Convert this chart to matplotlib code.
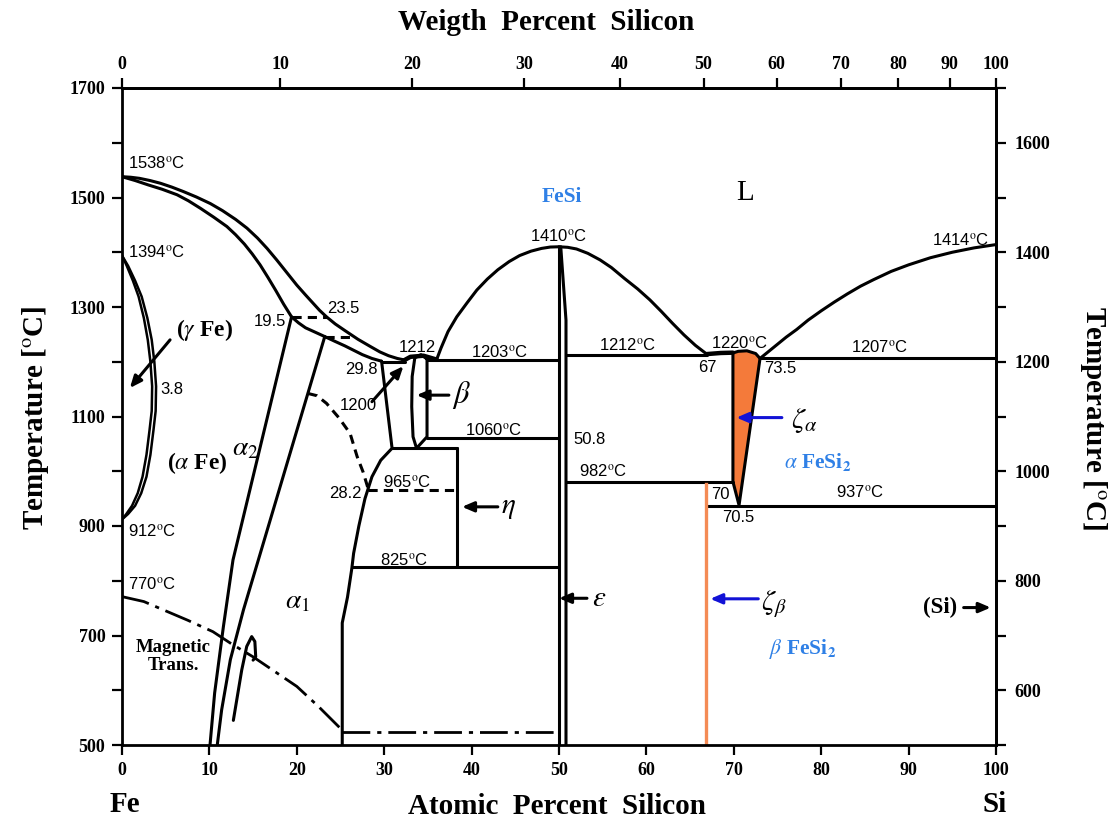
import numpy as np
import matplotlib
matplotlib.use('Agg')
import matplotlib.pyplot as plt
from matplotlib.ticker import FixedLocator, FuncFormatter

plt.rcParams['mathtext.fontset'] = 'stix'
SANS = 'Liberation Sans'
SERIF = 'Liberation Serif'
BLUE = '#2F80E6'
ARROW_BLUE = '#1212D6'
ORANGE = '#F47A3A'
ORANGE_LINE = '#F48B55'
LW = 2.2

# ===== Fe-Si phase boundaries (at.% Si, deg C) =====
# Fe-rich liquidus / solidus
liq_fe_x = [0, 1, 2, 3.2, 4.4, 5.7, 7, 8.5, 10.1, 11.5, 13, 14.3, 15.5, 16.6, 17.7, 18.9,
            20, 21, 21.8, 22.6, 23.4, 24.4, 25.5, 27, 28.4, 29.5, 30.5, 31.5, 32.4]
liq_fe_t = [1538, 1537, 1535, 1531, 1526, 1519, 1511, 1501, 1489, 1476, 1460, 1444, 1426, 1407,
            1386, 1362, 1340, 1322, 1308, 1294, 1282, 1269, 1257, 1241, 1228, 1218, 1211, 1206, 1203]
sol_fe_x = [0, 1.5, 3, 4.6, 6.3, 7.6, 9, 10.5, 12, 13, 14, 14.9, 15.8, 16.7, 17.6, 18.5,
            19.4, 20.2, 21, 22.1, 23.2, 24.4, 25.5, 26.5, 27.5, 28.6, 29.7]
sol_fe_t = [1538, 1531, 1523, 1515, 1505, 1494, 1480, 1464, 1447, 1432, 1415, 1397, 1377, 1354,
            1330, 1305, 1282, 1271, 1262, 1254, 1246, 1237, 1229, 1221, 1213, 1206, 1201]

# gamma loop
gam_out_x = [0, 0.7, 1.5, 2.25, 2.9, 3.4, 3.7, 3.9, 3.85, 3.6, 3.25, 2.8, 2.2, 1.5, 0.7, 0]
gam_out_t = [1394, 1375, 1348, 1319, 1280, 1240, 1200, 1155, 1110, 1075, 1030, 990, 960, 937, 922, 912]
gam_in_x = [0, 0.55, 1.25, 1.9, 2.5, 2.95, 3.25, 3.45, 3.4, 3.15, 2.8, 2.35, 1.8, 1.15, 0.5, 0]
gam_in_t = [1394, 1375, 1348, 1319, 1280, 1240, 1200, 1155, 1110, 1075, 1030, 990, 960, 937, 922, 912]

# alpha2 field boundaries
a2_left_x = [19.4, 12.7, 11.6, 10.6, 10.07]
a2_left_t = [1282, 838, 716, 595, 500]
a2_right_x = [23.2, 15.6, 13.9, 12.4, 11.4, 10.9]
a2_right_t = [1246, 838, 747, 656, 564, 500]
hook_x = [12.74, 13.7, 14.27, 14.84, 15.2, 15.3, 15.0]
hook_t = [545, 637, 680, 698, 689, 661, 655]

# alpha1 / alpha2 ordering (dashed)
ord_x = [21.3, 22.3, 23.4, 24.8, 26.1, 26.9, 27.6, 28.2]
ord_t = [1142, 1138, 1124, 1098, 1069, 1027, 998, 966]

# alpha1 solvus
a1_x = [29.7, 30.9, 29.6, 28.6, 27.8, 27.1, 26.5, 26.3, 25.8, 25.2, 25.2]
a1_t = [1201, 1042, 1020, 990, 950, 900, 850, 823, 770, 723, 500]

# beta (Fe5Si3) field
beta_x = [34.9, 34.9, 33.7, 33.3, 33.15, 33.2, 33.5, 34.2, 34.9]
beta_t = [1203, 1063, 1042, 1063, 1118, 1173, 1207, 1213, 1205]
dome1212_x = [32.2, 33.0, 34.5, 36.0]
dome1212_t = [1202, 1209, 1211, 1204]

# FeSi liquidus
liq_fesi_l_x = [36.0, 36.5, 37.3, 38.3, 39.5, 40.6, 41.8, 43.0, 44.3, 45.5, 46.8, 48.0, 49.0, 50.0]
liq_fesi_l_t = [1204, 1225, 1255, 1282, 1308, 1331, 1351, 1368, 1383, 1394, 1402, 1407, 1409.5, 1410]
liq_fesi_r_x = [50.0, 51.0, 52.0, 53.3, 54.7, 56.0, 57.5, 59.0, 60.4, 61.7, 63.0, 64.3, 65.6, 66.9]
liq_fesi_r_t = [1410, 1409, 1406, 1398, 1386, 1372, 1352, 1333, 1313, 1292, 1270, 1249, 1230, 1214]
eps_r_x = [50.2, 50.8, 50.8]
eps_r_t = [1410, 1276, 500]

# zeta-alpha (FeSi2 high temp) field
zeta_x = [69.9, 69.9, 70.6, 73.0, 72.5, 71.5, 70.5, 69.9]
zeta_t = [1216, 981, 938, 1206, 1215, 1220, 1219, 1216]
cap67_x = [66.9, 68.5, 69.9]
cap67_t = [1214, 1216, 1216.6]

# Si-rich liquidus
liq_si_x = [73.0, 74, 75, 76, 77.2, 78.5, 80, 81.5, 83, 84.5, 86, 88, 90, 92.5, 95, 97.5, 100]
liq_si_t = [1206, 1219, 1232, 1245, 1259, 1276, 1293, 1309, 1324, 1338, 1350, 1365, 1377,
            1390, 1400, 1408, 1414]

# magnetic transition
mag_x = [0, 2.5, 4.7, 7.5, 10.4, 12.5, 15.0, 17.5, 20.0, 22.5, 25.2]
mag_t = [771, 762, 747, 728, 707, 685, 661, 634, 607, 570, 527]

# isotherms: (x_start, x_end, T)
iso_solid = [
    (29.7, 32.4, 1200),
    (34.9, 50.0, 1203),
    (34.9, 50.0, 1060),
    (30.9, 38.3, 1042),
    (26.3, 50.0, 825),
    (50.8, 66.9, 1212),
    (73.0, 100.0, 1207),
    (50.8, 69.9, 981),
    (66.8, 100.0, 937),
]
iso_dashed = [(19.4, 23.4, 1282), (23.2, 26.5, 1246), (28.2, 38.3, 965)]

# ===== figure =====
fig = plt.figure(figsize=(11.12, 8.19), dpi=100)
ax = fig.add_axes([122 / 1112, 1 - 745 / 819, 874 / 1112, 657 / 819])
ax.set_xlim(0, 100)
ax.set_ylim(500, 1700)


def line(x, y, **kw):
    kw.setdefault('color', 'k')
    kw.setdefault('lw', LW)
    ax.plot(x, y, solid_joinstyle='round', solid_capstyle='round', **kw)


line(liq_fe_x, liq_fe_t)
line(sol_fe_x, sol_fe_t)
line(gam_out_x, gam_out_t, lw=1.8)
line(gam_in_x, gam_in_t, lw=1.8)
line(a2_left_x, a2_left_t)
line(a2_right_x, a2_right_t)
line(hook_x, hook_t)
line(ord_x, ord_t, ls=(0, (3, 2)))
line(a1_x, a1_t)
line(beta_x, beta_t)
line(dome1212_x, dome1212_t, lw=3.2)
line(liq_fesi_l_x, liq_fesi_l_t)
line(liq_fesi_r_x, liq_fesi_r_t)
line([50.0, 50.0], [1410, 500])
line(eps_r_x, eps_r_t)
line(liq_si_x, liq_si_t)
line(cap67_x, cap67_t, lw=3.2)
line([38.3, 38.3], [1042, 825])
line(mag_x, mag_t, lw=2.0, ls=(0, (10, 2.5, 1.5, 2.5)))
line([25.2, 50.0], [524, 524], lw=2.0, ls=(0, (10, 2.5, 1.5, 2.5)))

for x0, x1, t in iso_solid:
    line([x0, x1], [t, t])
for x0, x1, t in iso_dashed:
    line([x0, x1], [t, t], ls=(0, (3, 2)))

ax.fill(zeta_x, zeta_t, facecolor=ORANGE, edgecolor='k', lw=LW, joinstyle='round')
ax.plot([66.8, 66.8], [977, 500], color=ORANGE_LINE, lw=2.4)

# ----- numeric annotations -----
deg = r'$^{\rm o}$C'
num_labels = [
    ('1538' + deg, 0.7, 1563, 'left'),
    ('1394' + deg, 0.7, 1400, 'left'),
    ('912' + deg, 0.7, 890, 'left'),
    ('770' + deg, 0.7, 793, 'left'),
    ('3.8', 4.4, 1149, 'left'),
    ('19.5', 18.8, 1273, 'right'),
    ('23.5', 23.5, 1298, 'left'),
    ('29.8', 29.2, 1185, 'right'),
    ('1200', 27.0, 1121, 'center'),
    ('1212', 33.8, 1226, 'center'),
    ('1203' + deg, 43.2, 1218, 'center'),
    ('1060' + deg, 42.5, 1075, 'center'),
    ('965' + deg, 32.6, 980, 'center'),
    ('28.2', 25.6, 960, 'center'),
    ('825' + deg, 32.3, 838, 'center'),
    ('1410' + deg, 50.0, 1430, 'center'),
    ('1212' + deg, 57.9, 1230, 'center'),
    ('67', 67.0, 1190, 'center'),
    ('1220' + deg, 70.7, 1234, 'center'),
    ('73.5', 75.3, 1187, 'center'),
    ('50.8', 53.5, 1058, 'center'),
    ('982' + deg, 55.0, 1000, 'center'),
    ('70', 68.5, 957, 'center'),
    ('70.5', 70.5, 915, 'center'),
    ('937' + deg, 84.4, 961, 'center'),
    ('1207' + deg, 86.7, 1226, 'center'),
    ('1414' + deg, 96.0, 1422, 'center'),
]
for s, x, t, ha in num_labels:
    ax.text(x, t, s, family=SANS, fontsize=12, ha=ha, va='center')

# ----- phase names -----
phase_labels = [
    (r'($\gamma$ Fe)', 9.4, 1258, 17, 'k'),
    (r'($\alpha$ Fe)', 8.6, 1015, 17, 'k'),
    (r'$\alpha_2$', 14.1, 1040, 20, 'k'),
    (r'$\alpha_1$', 20.1, 761, 20, 'k'),
    (r'$\beta$', 38.8, 1139, 22, 'k'),
    (r'$\eta$', 44.2, 933, 21, 'k'),
    (r'$\varepsilon$', 54.6, 768, 21, 'k'),
    (r'$\zeta_\alpha$', 78.0, 1092, 21, 'k'),
    (r'$\zeta_\beta$', 74.6, 757, 21, 'k'),
    ('Magnetic\nTrans.', 5.9, 662, 13.5, 'k'),
    ('FeSi', 50.3, 1500, 15.5, BLUE),
    (r'$\alpha$ FeSi$_\mathbf{2}$', 79.6, 1017, 15.5, BLUE),
    (r'$\beta$ FeSi$_\mathbf{2}$', 77.9, 676, 15.5, BLUE),
    ('(Si)', 93.6, 751, 16.5, 'k'),
]
for s, x, t, fs, c in phase_labels:
    ax.text(x, t, s, family=SERIF, fontweight='bold', fontsize=fs, color=c,
            ha='center', va='center', linespacing=1.1)
ax.text(71.3, 1508, 'L', family=SERIF, fontsize=21, ha='center', va='center')

# ----- arrows -----
arrows = [
    ((5.5, 1240), (0.9, 1152), 'k'),
    ((28.6, 1127), (32.2, 1192), 'k'),
    ((37.4, 1139), (33.7, 1139), 'k'),
    ((43.0, 935), (38.9, 935), 'k'),
    ((53.2, 768), (50.0, 768), 'k'),
    ((96.3, 751), (99.4, 751), 'k'),
    ((75.5, 1098), (70.3, 1098), ARROW_BLUE),
    ((72.8, 767), (67.3, 767), ARROW_BLUE),
]
for start, end, c in arrows:
    ax.annotate('', xy=end, xytext=start,
                arrowprops=dict(arrowstyle='-|>,head_length=0.7,head_width=0.3',
                                color=c, lw=2.2, shrinkA=0, shrinkB=0))

# ----- axes -----
for sp in ax.spines.values():
    sp.set_linewidth(2.0)

TICK_FS = 13
bottom_ticks = np.arange(0, 101, 10)
ax.set_xticks(bottom_ticks)
ax.set_xticklabels([str(v) for v in bottom_ticks])
temp_ticks = np.arange(500, 1701, 100)
ax.yaxis.set_major_locator(FixedLocator(temp_ticks))
ax.yaxis.set_major_formatter(FuncFormatter(lambda v, p: '%d' % v if int(v) % 200 == 100 else ''))
ax.tick_params(direction='out', length=7, width=1.6, labelsize=TICK_FS, pad=5)
for lab in ax.get_xticklabels() + ax.get_yticklabels():
    lab.set_family(SERIF)
    lab.set_fontweight('bold')

M_FE, M_SI = 55.845, 28.086


def at_to_wt(a):
    a = np.asarray(a, dtype=float)
    return 100 * a * M_SI / (a * M_SI + (100 - a) * M_FE)


def wt_to_at(w):
    w = np.asarray(w, dtype=float)
    return 100 * (w / M_SI) / (w / M_SI + (100 - w) / M_FE)


top = ax.secondary_xaxis('top', functions=(at_to_wt, wt_to_at))
wt_ticks = np.arange(0, 101, 10)
top.set_xticks(wt_ticks)
top.set_xticklabels([str(v) for v in wt_ticks])
top.tick_params(direction='out', length=7, width=1.6, labelsize=TICK_FS, pad=4)
top.spines['top'].set_linewidth(2.0)

right = ax.secondary_yaxis('right')
right.yaxis.set_major_locator(FixedLocator(temp_ticks))
right.yaxis.set_major_formatter(FuncFormatter(lambda v, p: '%d' % v if int(v) % 200 == 0 and 500 < v < 1700 else ''))
right.tick_params(direction='out', length=7, width=1.6, labelsize=TICK_FS, pad=6)
right.spines['right'].set_linewidth(2.0)

for lab in top.get_xticklabels() + right.get_yticklabels():
    lab.set_family(SERIF)
    lab.set_fontweight('bold')

# ----- axis titles -----
title_kw = dict(family=SERIF, fontweight='bold', fontsize=21)
fig.text(546 / 1112, 1 - 22 / 819, 'Weigth  Percent  Silicon', ha='center', va='center', **title_kw)
fig.text(557 / 1112, 1 - 806 / 819, 'Atomic  Percent  Silicon', ha='center', va='center', **title_kw)
fig.text(125 / 1112, 1 - 804 / 819, 'Fe', ha='center', va='center', **title_kw)
fig.text(995 / 1112, 1 - 804 / 819, 'Si', ha='center', va='center', **title_kw)
fig.text(36 / 1112, 1 - 418 / 819, r'Temperature [$^{\rm o}$C]', rotation=90,
         ha='center', va='center', **title_kw)
fig.text(1093 / 1112, 1 - 418 / 819, r'Temperature [$^{\rm o}$C]', rotation=-90,
         ha='center', va='center', **title_kw)

fig.savefig('out.png', dpi=100, facecolor='white')
